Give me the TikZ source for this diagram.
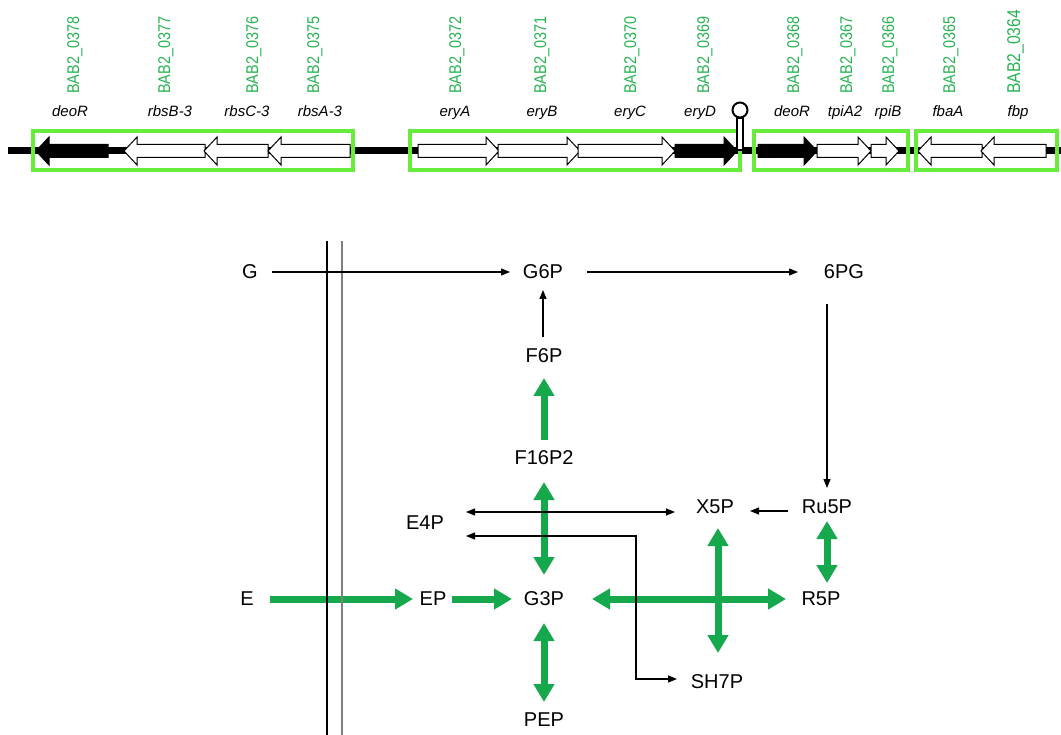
\documentclass[tikz,border=0pt]{standalone}
\usepackage{fontspec}
\setmainfont{Liberation Sans}
\newfontfamily\babfont[FakeStretch=0.85]{Liberation Sans}
\usetikzlibrary{arrows.meta}
\definecolor{boxgreen}{RGB}{104,236,60}
\definecolor{labgreen}{RGB}{40,178,82}
\definecolor{pathgreen}{RGB}{22,168,76}
\newcommand\geneR[3]{\filldraw[line width=1pt, fill=#3, draw=black] (#1,144.5) -- (#2-13,144.5) -- (#2-13,137) -- (#2,151) -- (#2-13,165) -- (#2-13,157.5) -- (#1,157.5) -- cycle;}
\newcommand\geneL[3]{\filldraw[line width=1pt, fill=#3, draw=black] (#2,144.5) -- (#1+13,144.5) -- (#1+13,137) -- (#1,151) -- (#1+13,165) -- (#1+13,157.5) -- (#2,157.5) -- cycle;}
\tikzset{
  met/.style={font=\fontsize{20}{20}\selectfont, inner sep=0pt},
  gname/.style={font=\fontsize{15}{15}\selectfont\itshape, anchor=base, inner sep=0pt},
  bab/.style={font=\babfont\fontsize{17}{17}\selectfont, text=labgreen, rotate=90, anchor=base west, inner sep=0pt},
  babbig/.style={bab, font=\babfont\fontsize{18.5}{18.5}\selectfont},
  gbox/.style={draw=boxgreen, line width=3.5pt},
  thinarr/.style={line width=1.2pt, -{Triangle[width=7pt,length=9pt]}},
  thinboth/.style={line width=1.2pt, {Triangle[width=7pt,length=9pt]}-{Triangle[width=7pt,length=9pt]}},
  grarr/.style={draw=pathgreen, line width=7pt, -{Triangle[width=20pt,length=18pt]}},
  grboth/.style={draw=pathgreen, line width=7pt, {Triangle[width=20pt,length=18pt]}-{Triangle[width=20pt,length=18pt]}},
}
\begin{document}
\begin{tikzpicture}[x=1pt,y=-1pt]
\useasboundingbox (0,0) rectangle (1061,735);
% ---------- gene map ----------
\draw[line width=7pt] (8,151) -- (1061,151);
\geneL{36}{108}{black}
\geneL{124}{205}{white}
\geneL{204}{268}{white}
\geneL{268}{350}{white}
\geneR{418}{499}{white}
\geneR{498}{580}{white}
\geneR{578}{675}{white}
\geneR{675}{737}{black}
\geneR{758}{817}{black}
\geneR{817}{871}{white}
\geneR{871}{899}{white}
\geneL{918}{982}{white}
\geneL{981}{1046}{white}
\draw[gbox] (33,131) rectangle (353,170);
\draw[gbox] (410,131) rectangle (740,170);
\draw[gbox] (754,131) rectangle (908,170);
\draw[gbox] (916,131) rectangle (1057,170);
\filldraw[line width=1.3pt, fill=white] (737,150) rectangle (743,118);
\filldraw[line width=2pt, fill=white] (740,110) circle [radius=7.5pt];
% gene names
\node[gname] (n378) at (70,117) {deoR};
\node[gname] (n377) at (170,117) {rbsB-3};
\node[gname] (n376) at (247,117) {rbsC-3};
\node[gname] (n375) at (320,117) {rbsA-3};
\node[gname] (n372) at (455,117) {eryA};
\node[gname] (n371) at (542,117) {eryB};
\node[gname] (n370) at (630,117) {eryC};
\node[gname] (n369) at (700,117) {eryD};
\node[gname] (n368) at (792,117) {deoR};
\node[gname] (n367) at (845,117) {tpiA2};
\node[gname] (n366) at (888,117) {rpiB};
\node[gname] (n365) at (948,117) {fbaA};
\node[gname] (n364) at (1018,117) {fbp};
% locus tags
\node[bab] (b378) at (79,94) {BAB2\_0378};
\node[bab] (b377) at (170,94) {BAB2\_0377};
\node[bab] (b376) at (258,94) {BAB2\_0376};
\node[bab] (b375) at (319,94) {BAB2\_0375};
\node[bab] (b372) at (461,94) {BAB2\_0372};
\node[bab] (b371) at (546,94) {BAB2\_0371};
\node[bab] (b370) at (636,94) {BAB2\_0370};
\node[bab] (b369) at (709,94) {BAB2\_0369};
\node[bab] (b368) at (799,94) {BAB2\_0368};
\node[bab] (b367) at (852,94) {BAB2\_0367};
\node[bab] (b366) at (894,94) {BAB2\_0366};
\node[bab] (b365) at (955,94) {BAB2\_0365};
\node[babbig] (b364) at (1020,94) {BAB2\_0364};
% ---------- pathway ----------
\node[met] (G) at (250,272) {G};
\node[met] (G6P) at (543,272) {G6P};
\node[met] (sixPG) at (844,272) {6PG};
\node[met] (F6P) at (544,356) {F6P};
\node[met] (F16P2) at (544,458) {F16P2};
\node[met] (E4P) at (425,523) {E4P};
\node[met] (X5P) at (715,507) {X5P};
\node[met] (Ru5P) at (827,507) {Ru5P};
\node[met] (E) at (247,599) {E};
\node[met] (EP) at (433,599) {EP};
\node[met] (G3P) at (544,599) {G3P};
\node[met] (R5P) at (821,599) {R5P};
\node[met] (SH7P) at (717,682) {SH7P};
\node[met] (PEP) at (544,720) {PEP};
\coordinate (xdn) at (718,653);
\coordinate (bend) at (636,600);
\coordinate (SH7Pend) at ([xshift=-40pt,yshift=3pt]SH7P.center);
% green arrows
\draw[grarr, shorten <=18pt, shorten >=22pt] (F16P2.center) -- (F6P.center);
\draw[grboth, shorten <=24pt, shorten >=24pt] (F16P2.center) -- (G3P.center);
\draw[grarr, shorten <=23pt, shorten >=20pt] (E.center) -- (EP.center);
\draw[grarr, shorten <=19pt, shorten >=32pt] (EP.center) -- (G3P.center);
\draw[grboth, shorten <=48pt, shorten >=35pt] (G3P.center) -- (R5P.center);
\draw[grboth, shorten <=21pt] (X5P.center -| xdn) -- (xdn);
\draw[grboth, shorten <=14pt, shorten >=16pt] (Ru5P.center) -- (Ru5P.center |- R5P.center);
\draw[grboth, shorten <=24pt, shorten >=18pt] (G3P.center) -- (PEP.center);
% membrane
\draw[line width=1.1pt] (327,241) -- (327,735);
\draw[line width=1.1pt, gray] (342,241) -- (342,735);
% thin arrows
\draw[thinarr, shorten <=22pt, shorten >=33pt] (G.center) -- (G6P.center);
\draw[thinarr, shorten <=44pt, shorten >=46pt] (G6P.center) -- (sixPG.center);
\draw[thinarr, shorten <=19pt, shorten >=18pt] (F6P.center -| G6P.center) -- (G6P.center);
\draw[thinarr, shorten <=32pt, shorten >=19pt] (Ru5P.center |- sixPG.center) -- (Ru5P.center);
\draw[thinarr, shorten <=39pt, shorten >=35pt] ([yshift=-4pt]Ru5P.center) -- ([yshift=-4pt]X5P.center);
\draw[thinboth] ([xshift=41pt,yshift=11pt]E4P.center) -- ([xshift=-40pt,yshift=-5pt]X5P.center);
\draw[thinboth] ([xshift=41pt,yshift=-13pt]E4P.center) -| (bend |- SH7Pend) -- (SH7Pend);
\end{tikzpicture}
\end{document}
